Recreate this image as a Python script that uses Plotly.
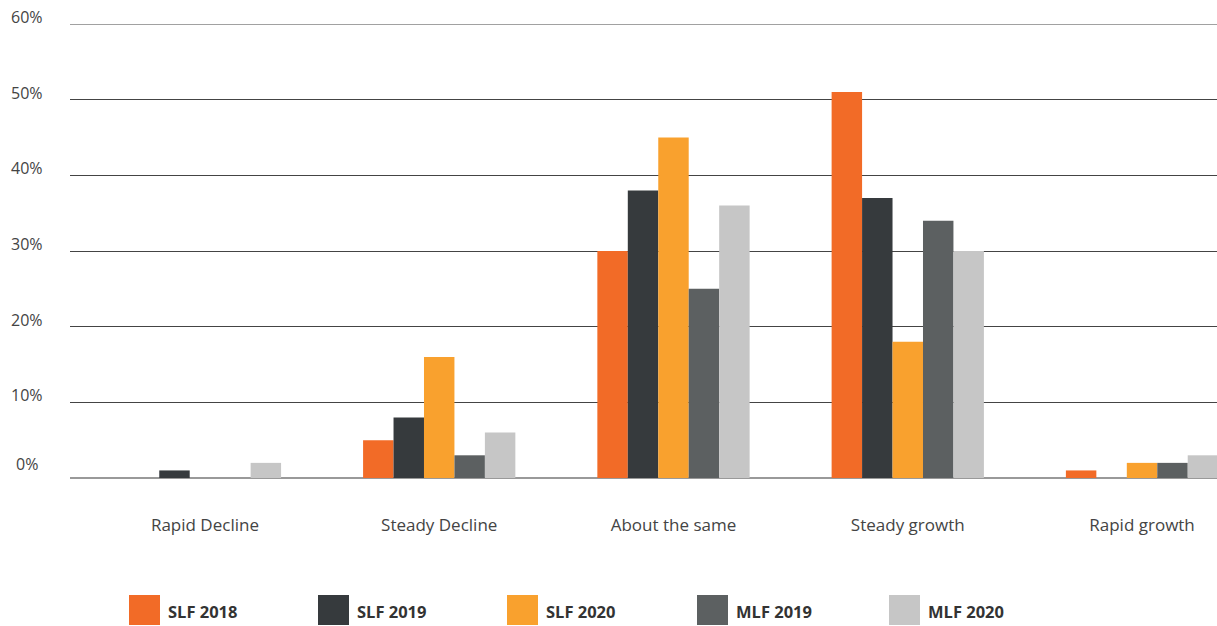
import plotly.graph_objects as go

categories = ["Rapid Decline", "Steady Decline", "About the same", "Steady growth", "Rapid growth"]
series_names = ["SLF 2018", "SLF 2019", "SLF 2020", "MLF 2019", "MLF 2020"]
slf_2018 = [0, 5, 30, 51, 1]
slf_2019 = [1, 8, 38, 37, 0]
slf_2020 = [0, 16, 45, 18, 2]
mlf_2019 = [0, 3, 25, 34, 2]
mlf_2020 = [2, 6, 36, 30, 3]
y_ticks = [0, 10, 20, 30, 40, 50, 60]
y_tick_labels = ["0%", "10%", "20%", "30%", "40%", "50%", "60%"]

colors = ["#F26B27", "#363A3D", "#F9A12E", "#5C6061", "#C6C6C6"]
values = [slf_2018, slf_2019, slf_2020, mlf_2019, mlf_2020]

W, H = 1217, 626
ML, MR, MT, MB = 70, 0, 24, 148
PW, PH = W - ML - MR, H - MT - MB

def px(x):
    return (x - ML) / PW

def py(y):
    return (H - MB - y) / PH

fig = go.Figure()
for name, vals, col in zip(series_names, values, colors):
    fig.add_trace(go.Bar(x=categories, y=vals, name=name, marker=dict(color=col, line=dict(width=0)),
                         showlegend=False))

FONT = "Open Sans"
annotations = []
for t, lab in zip(y_ticks, y_tick_labels):
    annotations.append(dict(x=px(27), y=t, xref="paper", yref="y", text=lab, showarrow=False,
                            xanchor="center", yanchor="bottom", yshift=(1 if t == 0 else -6),
                            font=dict(family=FONT, size=16, color="#444")))

shapes = [dict(type="line", xref="paper", yref="y", x0=0, x1=1, y0=y_ticks[-1], y1=y_ticks[-1],
               line=dict(color="#444", width=1))]
legend_x = [129, 318, 507, 697, 889]
for lx, name, col in zip(legend_x, series_names, colors):
    shapes.append(dict(type="rect", xref="paper", yref="paper",
                       x0=px(lx), x1=px(lx + 31), y0=py(595), y1=py(625),
                       fillcolor=col, line=dict(width=0)))
    annotations.append(dict(x=px(lx + 37), y=py(611), xref="paper", yref="paper", text="<b>" + name + "</b>",
                            showarrow=False, xanchor="left", yanchor="middle",
                            font=dict(family=FONT, size=16.5, color="#333")))

fig.update_layout(
    width=W, height=H,
    margin=dict(l=ML, r=MR, t=MT, b=MB, pad=0),
    paper_bgcolor="white", plot_bgcolor="white",
    barmode="group", bargap=0.35, bargroupgap=0,
    font=dict(family=FONT, size=17, color="#444"),
    xaxis=dict(type="category", range=[-0.576, 4.32], showgrid=False, zeroline=False,
               showline=False, ticks="", tickfont=dict(family=FONT, size=17, color="#444"),
               ticklabelstandoff=35),
    yaxis=dict(range=[0, 60], tickvals=y_ticks, showticklabels=False, showgrid=True,
               gridcolor="#444", gridwidth=1, zeroline=True, zerolinecolor="#999", zerolinewidth=2,
               fixedrange=True),
    shapes=shapes,
    annotations=annotations,
)

fig.write_html("out.html")
